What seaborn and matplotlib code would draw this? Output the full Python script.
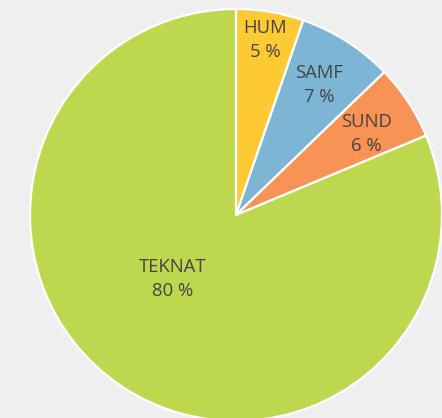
import numpy as np
import matplotlib
matplotlib.use("Agg")
import matplotlib.pyplot as plt
import seaborn as sns

# data
faculties = ["HUM", "SAMF", "SUND", "TEKNAT"]
shares = [5.3, 7.5, 5.9, 81.3]
pct_labels = ["5 %", "7 %", "6 %", "80 %"]
colors = ["#fdca33", "#7db6d5", "#f99355", "#bdd74e"]

# label placement (fraction of radius, angle tweak in degrees)
label_r = [0.86, 0.75, 0.745, 0.436]
label_shift = [0, 0, -1.5, -11]

sns.set_theme(style="white")
plt.rcParams["font.family"] = ["Open Sans", "DejaVu Sans"]

bg = "#efefef"
fig = plt.figure(figsize=(4.42, 4.18), dpi=100, facecolor=bg)
ax = fig.add_axes([0, 0, 1, 1])
ax.set_facecolor(bg)

wedges, _ = ax.pie(
    shares, colors=sns.color_palette(colors), startangle=90, counterclock=False,
    radius=1, wedgeprops=dict(edgecolor="white", linewidth=1.6),
)

for w, name, pct, r, sh in zip(wedges, faculties, pct_labels, label_r, label_shift):
    theta = np.deg2rad((w.theta1 + w.theta2) / 2 + sh)
    ax.text(r * np.cos(theta), r * np.sin(theta), f"{name}\n{pct}",
            ha="center", va="center", fontsize=13.3, color="#444444",
            linespacing=1.4)

R = 206
ax.set_xlim(-236 / R, (442 - 236) / R)
ax.set_ylim(-(418 - 215) / R, 215 / R)
ax.set_aspect("equal")
ax.axis("off")

fig.savefig("out.png", dpi=100, facecolor=bg)
